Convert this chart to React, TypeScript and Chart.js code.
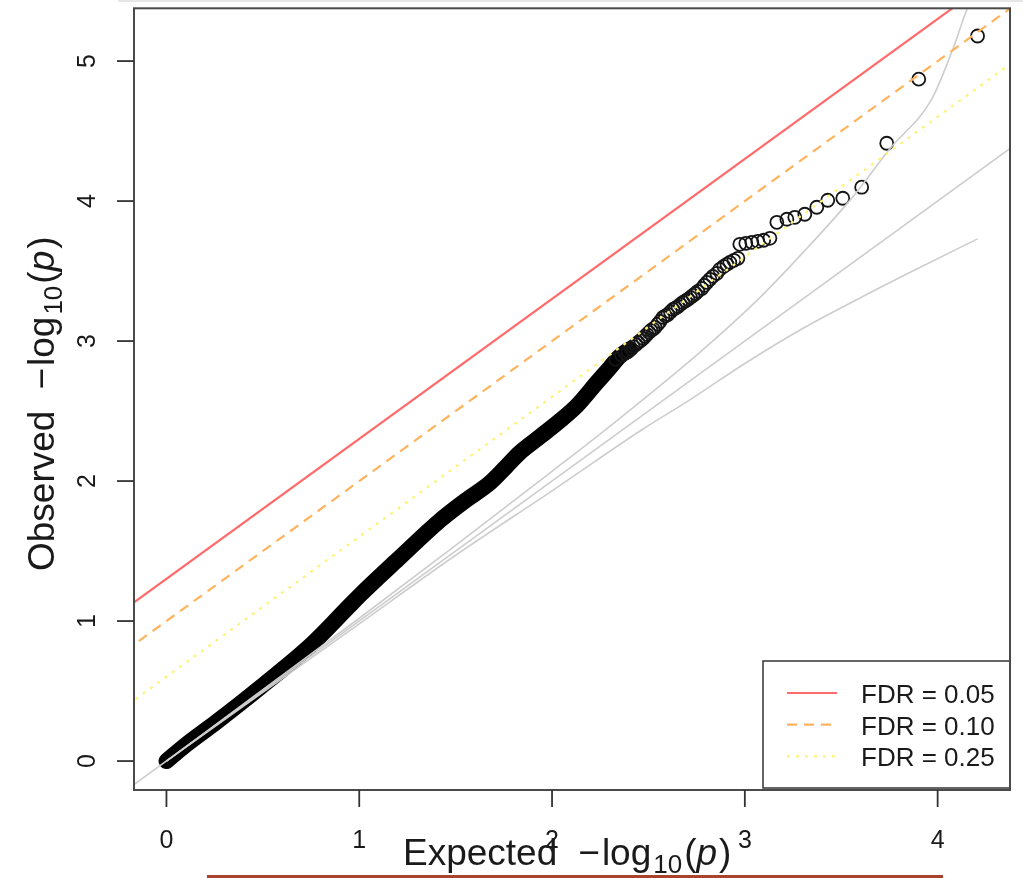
import React, { useEffect, useRef } from 'react';
import { Chart, registerables } from 'chart.js';

Chart.register(...registerables);

// ---- axis ranges & ticks ----
const xRange = [-0.1683, 4.3753];
const yRange = [-0.2068, 5.377];
const xTicks = [0, 1, 2, 3, 4];
const yTicks = [0, 1, 2, 3, 4, 5];

// ---- FDR reference lines (y = x + intercept) ----
const fdrLabels = ['FDR = 0.05', 'FDR = 0.10', 'FDR = 0.25'];
const fdrIntercepts = [1.301, 1.0, 0.602];
const fdrColors = ['#ff6a6a', '#ffb35c', '#fff27a'];
const fdrDashes = [[], [10, 7], [3, 6]];
const refLineX = [-0.5, 4.6];

// ---- null line and confidence band ----
const diagX = [-0.5, 4.6];
const diagY = [-0.5, 4.6];
const upperX = [0, 0.5, 1.0, 1.5, 2.0, 2.28, 2.47, 2.75, 3.07, 3.3, 3.56, 3.75, 3.97, 4.08, 4.155, 4.207];
const upperY = [0, 0.51, 1.02, 1.54, 2.07, 2.37, 2.58, 2.9, 3.3, 3.63, 4.03, 4.37, 4.73, 5.09, 5.38, 5.52];
const lowerX = [0, 0.5, 1.0, 1.5, 2.0, 2.47, 2.715, 3.0, 3.3, 3.6, 3.9, 4.207];
const lowerY = [0, 0.49, 0.98, 1.47, 1.93, 2.37, 2.58, 2.84, 3.09, 3.31, 3.52, 3.73];

// ---- observed points: dense body (traced) ----
const denseX = [0, 0.1, 0.26, 0.49, 0.75, 0.95, 1.0, 1.2, 1.42, 1.55, 1.68, 1.76, 1.83, 1.94, 2.04, 2.13, 2.23, 2.3, 2.35, 2.4];
const denseY = [0, 0.115, 0.28, 0.53, 0.83, 1.11, 1.18, 1.44, 1.72, 1.86, 1.99, 2.1, 2.2, 2.32, 2.43, 2.54, 2.7, 2.81, 2.89, 2.94];

// ---- observed points: sparse tail ----
const tailX = [2.33, 2.36, 2.38, 2.394, 2.41, 2.42, 2.435, 2.446, 2.46, 2.472, 2.482, 2.492, 2.503, 2.513, 2.524, 2.534, 2.548, 2.56, 2.575, 2.588, 2.601, 2.614, 2.627, 2.64, 2.653, 2.666, 2.679, 2.692, 2.705, 2.718, 2.731, 2.744, 2.756, 2.777, 2.79, 2.803, 2.819, 2.834, 2.855, 2.87, 2.891, 2.907, 2.922, 2.943, 2.964, 2.974, 3.005, 3.036, 3.067, 3.098, 3.13, 3.166, 3.218, 3.259, 3.311, 3.373, 3.43, 3.508, 3.606, 3.736, 3.902, 4.207];
const tailY = [2.87, 2.9, 2.915, 2.926, 2.945, 2.961, 2.975, 2.99, 3.004, 3.019, 3.033, 3.047, 3.062, 3.076, 3.086, 3.097, 3.12, 3.14, 3.169, 3.18, 3.19, 3.208, 3.226, 3.236, 3.247, 3.262, 3.276, 3.287, 3.298, 3.312, 3.326, 3.34, 3.355, 3.376, 3.398, 3.419, 3.441, 3.462, 3.484, 3.512, 3.534, 3.548, 3.562, 3.577, 3.591, 3.691, 3.698, 3.705, 3.712, 3.72, 3.734, 3.848, 3.87, 3.884, 3.906, 3.956, 4.006, 4.02, 4.099, 4.413, 4.871, 5.179];

const FONT = '"Liberation Sans", Arial, Helvetica, sans-serif';

type Part = { t: string; size: number; dy?: number; italic?: boolean; gap?: number };

const xTitleParts: Part[] = [
  { t: 'Expected', size: 37 },
  { t: '\u2212', size: 37, gap: 21 },
  { t: 'log', size: 37, gap: 2 },
  { t: '10', size: 26, dy: 8, gap: 2 },
  { t: '(', size: 37, gap: 2 },
  { t: 'p', size: 37, italic: true },
  { t: ')', size: 37, gap: 2 },
];
const yTitleParts: Part[] = [
  { t: 'Observed', size: 37 },
  { t: '\u2212', size: 37, gap: 21 },
  { t: 'log', size: 37, gap: 2 },
  { t: '10', size: 26, dy: 8, gap: 2 },
  { t: '(', size: 37, gap: 2 },
  { t: 'p', size: 37, italic: true },
  { t: ')', size: 37, gap: 2 },
];

function drawParts(ctx: CanvasRenderingContext2D, parts: Part[], x0: number, base: number) {
  let x = x0;
  ctx.textAlign = 'left';
  ctx.textBaseline = 'alphabetic';
  for (const p of parts) {
    x += p.gap || 0;
    ctx.font = `${p.italic ? 'italic ' : ''}${p.size}px ${FONT}`;
    ctx.fillText(p.t, x, base + (p.dy || 0));
    x += ctx.measureText(p.t).width;
  }
}

const rPlotPlugin = {
  id: 'rPlot',
  afterDraw(chart: any) {
    const { ctx, chartArea: a, scales } = chart;
    const xs = scales.x;
    const ys = scales.y;
    ctx.save();

    // legend box (bottom-right)
    const lw = 247, lh = 127;
    const lx = a.right - lw, ly = a.bottom - lh - 2;
    ctx.fillStyle = '#ffffff';
    ctx.fillRect(lx, ly, lw, lh);
    ctx.strokeStyle = '#333';
    ctx.lineWidth = 1.5;
    ctx.strokeRect(lx, ly, lw, lh);
    fdrLabels.forEach((lab, i) => {
      const yy = ly + 32 + i * 31.7;
      ctx.strokeStyle = fdrColors[i];
      ctx.lineWidth = 2.2;
      ctx.setLineDash(fdrDashes[i]);
      ctx.beginPath();
      ctx.moveTo(lx + 24, yy);
      ctx.lineTo(lx + 74, yy);
      ctx.stroke();
      ctx.setLineDash([]);
      ctx.fillStyle = '#1a1a1a';
      ctx.font = `26px ${FONT}`;
      ctx.textAlign = 'left';
      ctx.textBaseline = 'alphabetic';
      ctx.fillText(lab, lx + 98, yy + 10);
    });

    // plot box
    ctx.strokeStyle = '#4a4a4a';
    ctx.lineWidth = 2;
    ctx.strokeRect(a.left, a.top, a.right - a.left, a.bottom - a.top);

    // ticks and labels
    ctx.strokeStyle = '#333';
    ctx.lineWidth = 1.8;
    ctx.fillStyle = '#1a1a1a';
    ctx.font = `25px ${FONT}`;
    xTicks.forEach((t) => {
      const px = xs.getPixelForValue(t);
      ctx.beginPath();
      ctx.moveTo(px, a.bottom);
      ctx.lineTo(px, a.bottom + 17);
      ctx.stroke();
      ctx.textAlign = 'center';
      ctx.textBaseline = 'alphabetic';
      ctx.fillText(String(t), px, a.bottom + 58);
    });
    yTicks.forEach((t) => {
      const py = ys.getPixelForValue(t);
      ctx.beginPath();
      ctx.moveTo(a.left - 17, py);
      ctx.lineTo(a.left, py);
      ctx.stroke();
      ctx.save();
      ctx.translate(a.left - 39, py);
      ctx.rotate(-Math.PI / 2);
      ctx.textAlign = 'center';
      ctx.textBaseline = 'alphabetic';
      ctx.fillText(String(t), 0, 0);
      ctx.restore();
    });

    // axis titles
    ctx.fillStyle = '#1a1a1a';
    drawParts(ctx, xTitleParts, 403, 865);
    ctx.save();
    ctx.translate(53.5, 571);
    ctx.rotate(-Math.PI / 2);
    drawParts(ctx, yTitleParts, 0, 0);
    ctx.restore();

    // page decorations
    ctx.fillStyle = '#e6e6e6';
    ctx.fillRect(118, 0, 905, 2);
    ctx.fillStyle = '#a8432f';
    ctx.fillRect(207, 875, 736, 3);

    ctx.restore();
  },
};

const toPts = (xs: number[], ys: number[]) => xs.map((x, i) => ({ x, y: ys[i] }));

export default function App() {
  const ref = useRef<HTMLCanvasElement | null>(null);

  useEffect(() => {
    if (!ref.current) return;
    const fdrSets = fdrIntercepts.map((b, i) => ({
      label: fdrLabels[i],
      data: refLineX.map((x) => ({ x, y: x + b })),
      showLine: true,
      borderColor: fdrColors[i],
      borderWidth: 2.2,
      borderDash: fdrDashes[i],
      pointRadius: 0,
      clip: 0,
      order: 0,
    }));
    const greySet = (data: { x: number; y: number }[]) => ({
      data,
      showLine: true,
      borderColor: '#cdcdcd',
      borderWidth: 1.6,
      pointRadius: 0,
      cubicInterpolationMode: 'monotone',
      clip: 0,
      order: 1,
    });
    const chart = new Chart(ref.current, {
      type: 'scatter',
      data: {
        datasets: [
          ...fdrSets,
          greySet(toPts(diagX, diagY)),
          greySet(toPts(upperX, upperY)),
          greySet(toPts(lowerX, lowerY)),
          {
            data: toPts(tailX, tailY),
            showLine: false,
            pointRadius: 6.5,
            pointBorderWidth: 1.8,
            pointBorderColor: '#151515',
            pointBackgroundColor: 'rgba(0,0,0,0)',
            clip: 0,
            order: 2,
          },
          {
            data: toPts(denseX, denseY),
            showLine: true,
            borderColor: '#000000',
            borderWidth: 16,
            borderCapStyle: 'round',
            borderJoinStyle: 'round',
            pointRadius: 0,
            cubicInterpolationMode: 'monotone',
            clip: 0,
            order: 3,
          },
        ] as any,
      },
      options: {
        responsive: false,
        maintainAspectRatio: false,
        animation: false,
        events: [],
        layout: { padding: { left: 134, top: 8, right: 13, bottom: 88 } },
        plugins: { legend: { display: false }, tooltip: { enabled: false } },
        scales: {
          x: { type: 'linear', min: xRange[0], max: xRange[1], display: false },
          y: { type: 'linear', min: yRange[0], max: yRange[1], display: false },
        },
      },
      plugins: [rPlotPlugin],
    });
    return () => chart.destroy();
  }, []);

  return (
    <div style={{ position: 'absolute', left: 0, top: 0, width: 1023, height: 878, background: '#fff' }}>
      <canvas ref={ref} width={1023} height={878} style={{ display: 'block' }} />
    </div>
  );
}
